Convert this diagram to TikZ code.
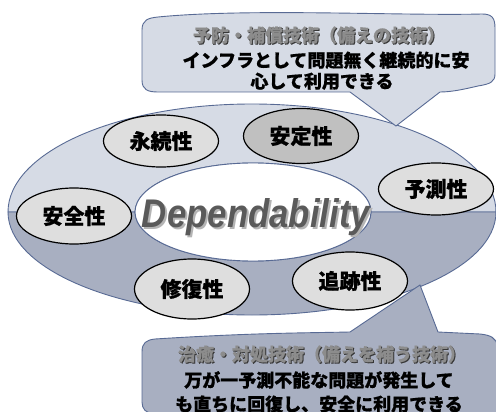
\documentclass[tikz,border=0pt]{standalone}
\usepackage{fontspec}
\usepackage{graphicx}
\newfontfamily\jp{Noto Sans CJK JP}[BoldFeatures={FakeBold=0.8}]
\newfontfamily\depfont{Liberation Sans}
\usetikzlibrary{shapes.geometric}
\definecolor{upfill}{RGB}{214,219,229}
\definecolor{lowfill}{RGB}{168,175,193}
\definecolor{slate}{RGB}{88,106,148}
\definecolor{elfill}{RGB}{222,222,222}
\definecolor{elfilldark}{RGB}{192,192,192}
\definecolor{titlegray}{RGB}{140,140,140}
\definecolor{titleshadow}{RGB}{55,55,55}
\definecolor{deptext}{RGB}{90,90,90}
\definecolor{depshadow}{RGB}{180,180,180}
\newcommand{\shadowed}[4]{\rlap{\hspace{#3}\raisebox{-#3}{\color{#2}#1}}{\color{#4}#1}}
\begin{document}
\begin{tikzpicture}[x=1pt,y=-1pt,
  ringpart/.style={draw=slate, line width=0.9pt},
  callout/.style={draw=slate, line width=0.9pt},
  prop/.style={ellipse, draw=black, line width=1.2pt, fill=elfill,
    minimum width=115pt, minimum height=52pt, inner sep=0pt,
    font=\jp\bfseries\fontsize{21}{21}\selectfont},
  bodytext/.style={anchor=base, inner sep=0pt,
    font=\jp\bfseries\fontsize{18}{18}\selectfont},
  deptxt/.style={anchor=base, inner sep=0pt,
    font=\depfont\bfseries\itshape\fontsize{40}{40}\selectfont}
]
\useasboundingbox (0,0) rectangle (496,412);

% ring: upper and lower halves
\path[ringpart, fill=upfill] (8,212) arc[start angle=180, end angle=0, x radius=244pt, y radius=108pt]
  -- (371,212) arc[start angle=0, end angle=180, x radius=118pt, y radius=49pt] -- cycle;
\path[ringpart, fill=lowfill] (8,212) arc[start angle=180, end angle=360, x radius=244pt, y radius=103pt]
  -- (371,212) arc[start angle=360, end angle=180, x radius=118pt, y radius=49pt] -- cycle;

% inner white ellipse
\node[ellipse, draw=slate, line width=0.9pt, fill=white, minimum width=236pt, minimum height=98pt, inner sep=0pt] (core) at (253,212) {};

% top callout
\path[callout, fill=upfill] (142,30) .. controls (142,20) and (148,18) .. (158,17)
  .. controls (250,8) and (400,16) .. (482,14)
  .. controls (492,14) and (495,18) .. (495,28)
  -- (495,74)
  .. controls (495,82) and (490,84) .. (478,86)
  .. controls (465,89) and (452,92) .. (440,92)
  -- (396,126) -- (350,92)
  -- (158,92) .. controls (148,92) and (142,90) .. (142,80) -- cycle;

% bottom callout
\path[callout, fill=lowfill] (142,352) .. controls (142,343) and (146,340) .. (155,339)
  .. controls (250,333) and (300,333) .. (350,332)
  -- (420,285) -- (438,332)
  -- (480,334) .. controls (490,335) and (497,338) .. (497,346)
  -- (497,413) -- (152,413) .. controls (146,413) and (142,409) .. (142,402) -- cycle;

% property ellipses
\node[prop] (eizoku) at (161,141) {永続性};
\node[prop, fill=elfilldark, minimum height=55pt] (antei) at (301,136) {安定性};
\node[prop] (yosoku) at (436,189) {予測性};
\node[prop, minimum height=56pt] (anzen) at (74,216) {安全性};
\node[prop, minimum height=60pt] (shufuku) at (192,289) {修復性};
\node[prop, minimum height=58pt] (tsuiseki) at (350,281) {追跡性};

% Dependability
\node[deptxt] (dep) at (256,227) {\shadowed{\scalebox{0.87}[1]{Dependability}}{depshadow}{2pt}{deptext}};

% top callout text
\node[bodytext] (t1) at (319,42) {\shadowed{予防・補償技術（備えの技術）}{titleshadow}{1pt}{titlegray}};
\node[bodytext] (t2) at (326,67) {インフラとして問題無く継続的に安};
\node[bodytext] (t3) at (322,88) {心して利用できる};

% bottom callout text
\node[bodytext] (b1) at (322,361) {\shadowed{治癒・対処技術（備えを補う技術）}{titleshadow}{1pt}{titlegray}};
\node[bodytext] (b2) at (319,387) {万が一予測不能な問題が発生して};
\node[bodytext] (b3) at (319,411) {も直ちに回復し、安全に利用できる};
\end{tikzpicture}
\end{document}
